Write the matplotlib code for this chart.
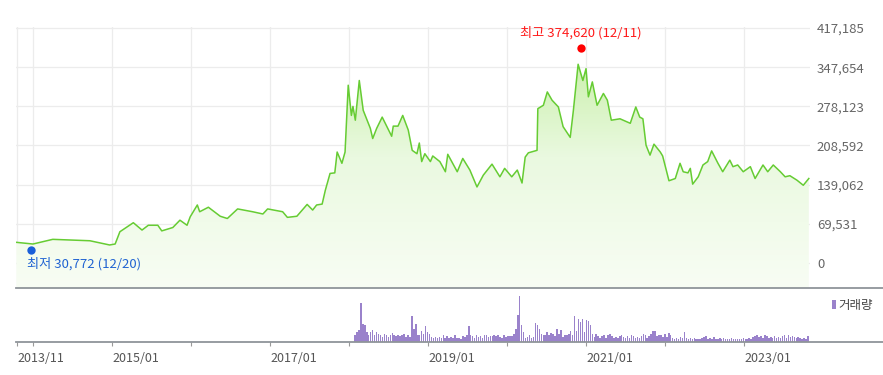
import numpy as np
import matplotlib
matplotlib.use('Agg')
import matplotlib.pyplot as plt
from matplotlib.colors import LinearSegmentedColormap
from matplotlib.lines import Line2D
from matplotlib.patches import PathPatch, Rectangle
import matplotlib.transforms as mtrans

plt.rcParams['font.family'] = ['Noto Sans CJK KR', 'DejaVu Sans']

# ---------------- data ----------------
# price (weekly-ish close) : time in fractional years, value in KRW
t_year = [2013.79, 2014.00, 2014.25, 2014.72, 2014.97, 2015.04, 2015.10, 2015.27, 2015.38, 2015.46,
          2015.58, 2015.63, 2015.77, 2015.86, 2015.95, 2015.99, 2016.08, 2016.11, 2016.22, 2016.37,
          2016.46, 2016.59, 2016.78, 2016.91, 2016.97, 2017.16, 2017.22, 2017.34, 2017.47, 2017.54,
          2017.59, 2017.66, 2017.70, 2017.76, 2017.82, 2017.85, 2017.91, 2017.95, 2017.99, 2018.03,
          2018.05, 2018.08, 2018.13, 2018.18, 2018.27, 2018.30, 2018.35, 2018.42, 2018.48, 2018.54,
          2018.56, 2018.62, 2018.68, 2018.75, 2018.80, 2018.86, 2018.89, 2018.92, 2018.96, 2019.03,
          2019.06, 2019.15, 2019.22, 2019.25, 2019.37, 2019.44, 2019.53, 2019.62, 2019.70, 2019.81,
          2019.91, 2019.97, 2020.06, 2020.13, 2020.19, 2020.23, 2020.27, 2020.38, 2020.39, 2020.46,
          2020.51, 2020.57, 2020.65, 2020.71, 2020.80, 2020.84, 2020.90, 2020.96, 2021.00, 2021.03,
          2021.08, 2021.14, 2021.22, 2021.27, 2021.32, 2021.43, 2021.56, 2021.63, 2021.68, 2021.72,
          2021.76, 2021.81, 2021.86, 2021.94, 2021.97, 2022.05, 2022.13, 2022.19, 2022.23, 2022.29,
          2022.32, 2022.35, 2022.42, 2022.48, 2022.54, 2022.59, 2022.67, 2022.73, 2022.82, 2022.86,
          2022.92, 2022.99, 2023.08, 2023.14, 2023.24, 2023.30, 2023.37, 2023.46, 2023.52, 2023.58,
          2023.67, 2023.75, 2023.82]
price_k = [36.7, 33.7, 42, 39.5, 32, 33.7, 55.5, 71.5, 58.5, 67,
           67, 57, 63, 76, 67, 82, 103, 91, 99, 83,
           79, 96, 91, 87, 96, 91, 81, 83, 104, 94,
           103, 104.6, 129, 159, 160, 197, 177, 197, 315.6, 262,
           278, 253.5, 324, 271, 239, 221, 239, 259, 242, 225,
           243, 243, 262, 236, 200, 194, 213, 180, 194, 180,
           190, 180, 162, 193, 162, 185.6, 165, 135, 156, 175.5,
           153, 168, 153, 165, 142, 188, 195.6, 200, 274, 280,
           303.7, 289, 277, 242, 223, 271, 352.8, 324, 345, 295,
           321.5, 280, 301, 289, 253.5, 256, 248, 277, 259, 256,
           209, 191.5, 211, 197, 190, 146, 150, 177, 162, 160,
           168, 140, 153, 174, 180, 199, 177, 162, 182.6, 171,
           174, 162, 171, 150, 174, 162, 174, 162, 153, 155,
           147, 138, 150]

# volume bars (relative units), from 2018/02 to 2023/10
vol_start, vol_end = 2018.076, 2023.81
volume = [7.3, 10, 11.7, 39, 18, 16.7, 10, 7, 10, 11.7, 7, 10, 8.3, 6.7, 5, 8.3, 6.7, 5, 6.7, 9,
          6.7, 5.7, 6.7, 5.7, 6.7, 8.3, 5, 6.7, 5, 25.7, 13.3, 17.7, 6.7, 7.3, 10.7, 8.3, 15.7, 10, 8.3, 5,
          4, 4.7, 4, 5, 4, 7.3, 4, 5.7, 4, 5, 4, 6.7, 4, 4, 3.3, 6, 5, 7.3, 15.7, 7.3,
          5.7, 4, 7.3, 5, 5.7, 4, 6.7, 7.3, 5, 6, 5.7, 6.7, 6, 7.3,
          5, 4, 6.7, 4.7, 5.7, 5.7, 6, 8.3, 13.3, 26.7, 45.7, 16.7, 10, 4, 5, 6.7, 4, 5, 19, 17.3,
          13.3, 8.3, 7.3, 7.3, 10, 7.3, 9, 8.3, 6, 13.3, 8.3, 11.7, 5, 6.7, 7.3, 8.3, 10.7, 7.3, 25.7, 10.7,
          23.3, 20, 23.3, 10, 21.7, 20.7, 16.7, 8.3, 5, 8.3, 5.7, 4, 5.7, 6.7, 4, 6.7, 8.3, 5.7, 4, 5,
          4, 5.7, 6.7, 5, 4, 5.7, 4, 6.7, 6, 4, 5, 4, 5.7, 8.3, 6.7, 4, 5.7, 8.3, 10.7,
          10.7, 5.7, 7.3, 6.7, 5, 8.3, 5, 9.3, 6.7, 4, 3.3, 4, 3.3, 5, 4, 10, 4, 3.3, 4, 3.3,
          4, 3.3, 2.7, 3.3, 4, 4.7, 5.7, 3.3, 4, 3.3, 4.7, 3.3, 2.7, 4, 3.3, 4, 3.3, 2.7, 3.3, 4,
          3.3, 2.7, 3.3, 2.7, 3.3, 4, 2.7, 3.3, 4, 2.7, 4.7, 5.7, 6.7, 5, 5.7, 4, 7.3, 6, 4, 5,
          4, 5.7, 4, 5, 4, 5.7, 6.7, 4, 6.7, 5, 6, 5, 4, 5, 4, 3.3, 4, 2.7, 5.7]

y_ticks = [0, 69531, 139062, 208592, 278123, 347654, 417185]
x_ticks = [2013.80, 2014.0, 2015.0, 2016.0, 2017.0, 2018.0, 2019.0, 2020.0, 2021.0, 2022.0, 2023.0]
x_labels = ['2013/11', '', '2015/01', '', '2017/01', '', '2019/01', '', '2021/01', '', '2023/01']

hi_t, hi_v, hi_label = 2020.94, 374620, '최고 374,620 (12/11)'
lo_t, lo_v, lo_label = 2013.97, 30772, '최저 30,772 (12/20)'

# ---------------- layout ----------------
W, H = 883, 375
fig = plt.figure(figsize=(W / 100, H / 100), dpi=100)


def fx(px):
    return px / W


def fy(py):
    return 1 - py / H


L, R = 16, 810
top_main, bot_main, bot_vol = 27, 288.3, 342
ax = fig.add_axes([fx(L), fy(bot_main), fx(R) - fx(L), fy(top_main) - fy(bot_main)])
axv = fig.add_axes([fx(L), fy(bot_vol), fx(R) - fx(L), fy(bot_main) - fy(bot_vol)])

xmin, xmax = 2013.785, 2023.835
ybot, ytop = -44915, 418960
prices = np.array(price_k) * 1000

for a in (ax, axv):
    a.set_xlim(xmin, xmax)
    for s in a.spines.values():
        s.set_visible(False)
    a.set_facecolor('none')

# ---- main price chart ----
ax.set_ylim(ybot, ytop)
ax.set_yticks(y_ticks)
ax.set_yticklabels([f'{v:,}' for v in y_ticks])
ax.yaxis.tick_right()
ax.tick_params(axis='y', length=0, pad=5, labelsize=9.5, labelcolor='#666666')
ax.set_xticks(x_ticks)
ax.tick_params(axis='x', length=0, labelbottom=False)
ax.grid(True, color='#ececec', lw=0.9, zorder=0)
ax.set_axisbelow(True)

poly = ax.fill_between(t_year, prices, ybot, color='none', lw=0)
path = poly.get_paths()[0]
patch = PathPatch(path, transform=ax.transData, facecolor='none', edgecolor='none')
ax.add_patch(patch)
cmap = LinearSegmentedColormap.from_list('g', ['#f8fdf4', '#eaf9e0', '#c0ed9b'])
grad = np.linspace(1, 0, 256).reshape(-1, 1)
im = ax.imshow(grad, extent=[xmin, xmax, ybot, ytop], aspect='auto', cmap=cmap,
               origin='upper', zorder=1, interpolation='bilinear')
im.set_clip_path(patch)
ax.set_xlim(xmin, xmax)
ax.set_ylim(ybot, ytop)

ax.plot(t_year, prices, color='#66cc33', lw=1.1, zorder=3, solid_joinstyle='round')

# high / low markers (drawn a few px off the line like the original)
up = mtrans.ScaledTranslation(0, 4.3 / 100, fig.dpi_scale_trans)
down = mtrans.ScaledTranslation(0, -4.3 / 100, fig.dpi_scale_trans)
ax.plot([hi_t], [hi_v], 'o', color='#ff0000', ms=6, mec='none', transform=ax.transData + up, zorder=5)
ax.plot([lo_t], [lo_v], 'o', color='#1a5fd9', ms=6, mec='none', transform=ax.transData + down, zorder=5)
ax.annotate(hi_label, (hi_t, hi_v), xytext=(0, 14.7 * 0.72 + 3.1), textcoords='offset points',
            ha='center', va='center', color='#ff1a1a', fontsize=9.5, zorder=6)
ax.annotate(lo_label, (lo_t, lo_v), xytext=(-2.5, -(14 + 4.3) * 0.72), textcoords='offset points',
            ha='left', va='center', color='#2063d2', fontsize=9.5, zorder=6)

# ---- volume ----
n = len(volume)
vx = np.linspace(vol_start, vol_end, n)
axv.bar(vx, volume, width=0.019, color='#9a82cb', lw=0, align='center')
axv.set_ylim(0, bot_vol - bot_main)
axv.set_yticks([])
axv.set_xticks(x_ticks)
axv.set_xticklabels(x_labels, ha='left')
axv.tick_params(axis='x', direction='out', length=3, width=0.8, color='#999999',
                pad=4, labelsize=9, labelcolor='#555555')

# legend
fig.patches.append(Rectangle((fx(832), fy(309)), fx(3.5), fy(300) - fy(309),
                             transform=fig.transFigure, facecolor='#9a82cb', edgecolor='none'))
fig.text(fx(838), fy(305), '거래량', ha='left', va='center', fontsize=9, color='#444444')

# separator lines spanning to the right edge
for yy in (bot_main, bot_vol):
    fig.add_artist(Line2D([fx(L), 1.0], [fy(yy), fy(yy)], color='#8f949a', lw=1.3,
                          transform=fig.transFigure))

fig.savefig('out.png', dpi=100)
